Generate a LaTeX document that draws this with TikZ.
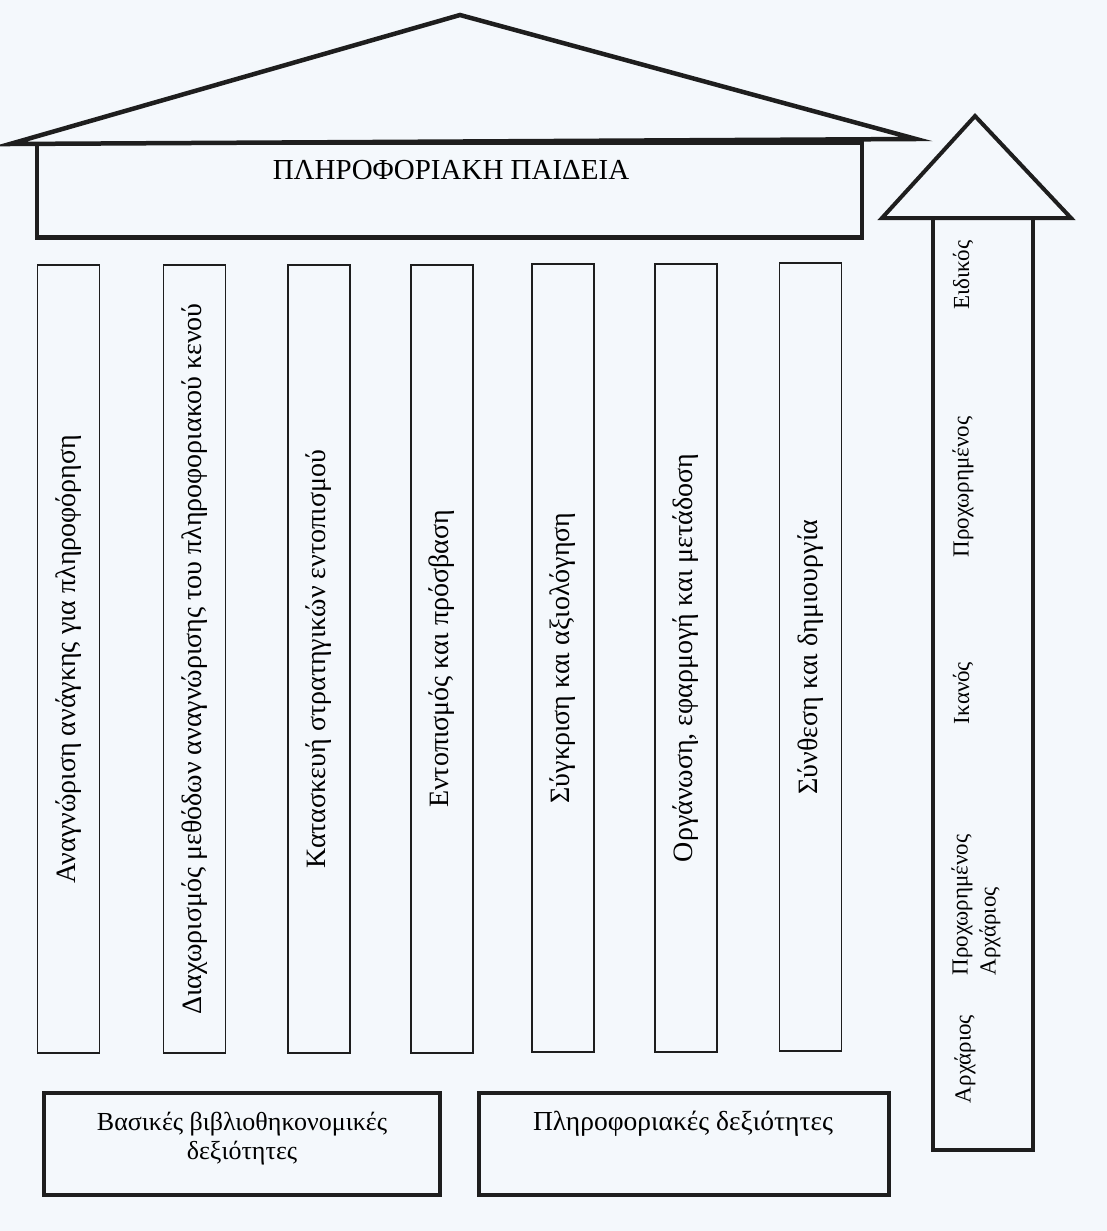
\documentclass[tikz,border=0pt]{standalone}
\usepackage{fontspec}
\setmainfont{Liberation Serif}
\definecolor{paper}{RGB}{244,248,252}
\definecolor{ink}{RGB}{30,30,30}
\begin{document}
\begin{tikzpicture}[x=1pt,y=-1pt,
  heavy/.style={draw=ink, line width=4.5pt, line join=miter},
  pillar/.style={draw=ink, line width=1.6pt, fill=paper, rotate=90,
    minimum width=788pt, minimum height=62pt, inner sep=0pt,
    font=\fontsize{28}{32}\selectfont},
  level/.style={rotate=90, inner sep=0pt, font=\fontsize{23}{27}\selectfont},
  basebox/.style={draw=ink, line width=4pt, fill=paper, inner sep=0pt},
  boxtext/.style={inner sep=0pt, align=center}]
\useasboundingbox[fill=paper] (0,0) rectangle (1107,1231);

% roof and header
\node[heavy, fill=paper, minimum width=825pt, minimum height=95pt, inner sep=0pt] (header) at (449.5,190) {};
\coordinate (roofL) at (10,144);
\coordinate (roofT) at (460,15);
\coordinate (roofR) at (916,139);
\draw[heavy, fill=paper] (roofL) -- (roofT) -- (roofR) -- cycle;
\node[inner sep=0pt, font=\fontsize{29}{32}\selectfont] (title) at (451,170) {ΠΛΗΡΟΦΟΡΙΑΚΗ ΠΑΙΔΕΙΑ};

% pillars
\node[pillar] (c1) at (68.5,659) {Αναγνώριση ανάγκης για πληροφόρηση};
\node[pillar] (c2) at (194.5,659) {Διαχωρισμός μεθόδων αναγνώρισης του πληροφοριακού κενού};
\node[pillar] (c3) at (319,659) {Κατασκευή στρατηγικών εντοπισμού};
\node[pillar] (c4) at (442,659) {Εντοπισμός και πρόσβαση};
\node[pillar] (c5) at (563,658) {Σύγκριση και αξιολόγηση};
\node[pillar] (c6) at (686,658) {Οργάνωση, εφαρμογή και μετάδοση};
\node[pillar] (c7) at (810.5,657) {Σύνθεση και δημιουργία};

% bottom boxes
\node[basebox, minimum width=396pt, minimum height=102pt] (b1) at (241.5,1143.5) {};
\node[boxtext, font=\fontsize{26}{29}\selectfont] (b1t) at (242,1139) {Βασικές βιβλιοθηκονομικές\\δεξιότητες};
\node[basebox, minimum width=410pt, minimum height=102pt] (b2) at (683.5,1143.5) {};
\node[boxtext, font=\fontsize{27.5}{30}\selectfont] (b2t) at (683,1124) {Πληροφοριακές δεξιότητες};

% rising arrow
\node[draw=ink, line width=4pt, fill=paper, minimum width=100pt, minimum height=932pt, inner sep=0pt] (shaft) at (982.5,684) {};
\coordinate (triL) at (882,218);
\coordinate (triT) at (975,116);
\coordinate (triR) at (1071,218);
\draw[heavy, line width=4pt, fill=paper] (triL) -- (triT) -- (triR) -- cycle;

\node[level] (l1) at (963,275) {Ειδικός};
\node[level] (l2) at (963,487) {Προχωρημένος};
\node[level] (l3) at (963,693) {Ικανός};
\node[level, align=left, font=\fontsize{23}{28}\selectfont] (l4) at (976,905) {Προχωρημένος\\Αρχάριος};
\node[level] (l5) at (965,1059) {Αρχάριος};
\end{tikzpicture}
\end{document}
